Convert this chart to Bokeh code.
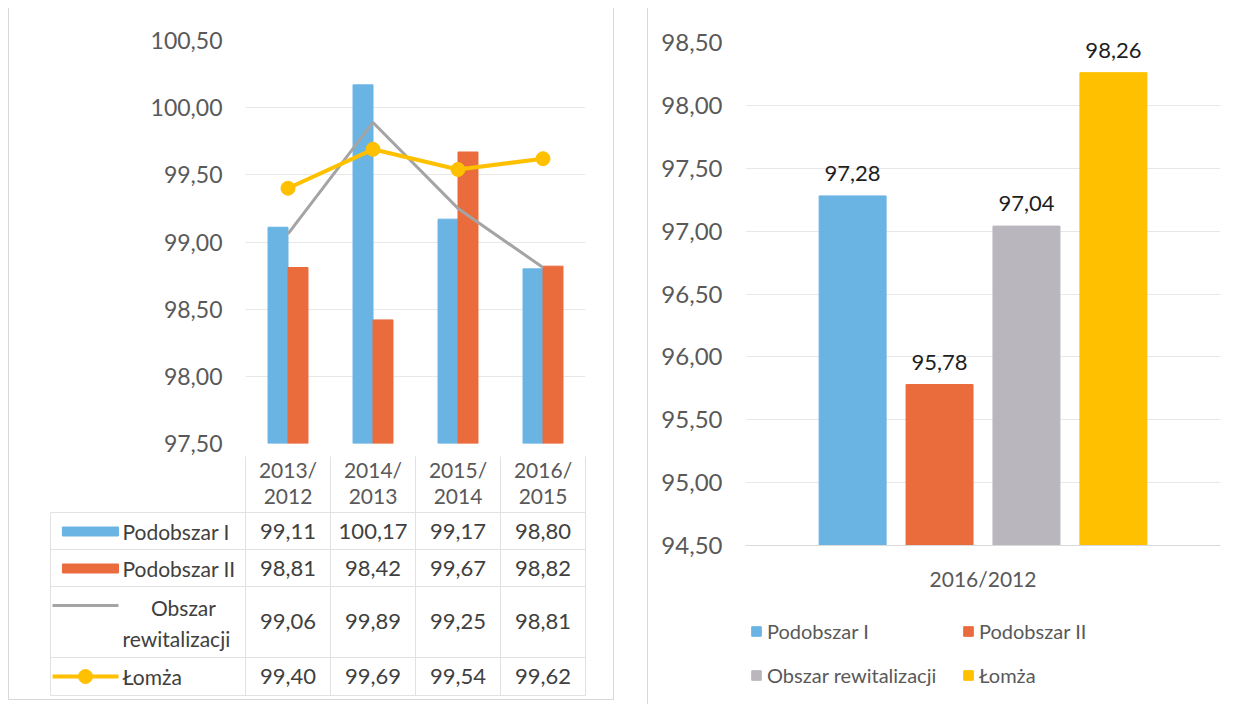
from bokeh.plotting import figure
from bokeh.models import (ColumnDataSource, FactorRange, Range1d, FixedTicker,
                          Legend, LegendItem, Spacer, CustomJSTickFormatter)
from bokeh.layouts import row, column
from bokeh.transform import dodge
from bokeh.core.properties import value
from bokeh.embed import file_html
from bokeh.resources import INLINE

# ---------------- data ----------------
categories = ["2013/2012", "2014/2013", "2015/2014", "2016/2015"]
podobszar_1 = [99.11, 100.17, 99.17, 98.80]
podobszar_2 = [98.81, 98.42, 99.67, 98.82]
obszar_rew = [99.06, 99.89, 99.25, 98.81]
lomza = [99.40, 99.69, 99.54, 99.62]
left_ticks = [97.5, 98.0, 98.5, 99.0, 99.5, 100.0, 100.5]

right_category = ["2016/2012"]
right_series = ["Podobszar I", "Podobszar II", "Obszar rewitalizacji", "Łomża"]
right_values = [97.28, 95.78, 97.04, 98.26]
right_ticks = [94.5, 95.0, 95.5, 96.0, 96.5, 97.0, 97.5, 98.0, 98.5]

# ---------------- style ----------------
FONT = "Lato"
BLUE = "#6AB4E4"
ORANGE = "#EA6B3C"
GRAY_LINE = "#A4A4A4"
GRAY_BAR = "#BAB6BE"
YELLOW = "#FFC000"
AX_TXT = "#595959"
TBL_TXT = "#404040"
GRID = "#E8E8E8"
BORDER = "1px solid #D8D8D8"


def fmt(v):
    return f"{v:.2f}".replace(".", ",")


comma_fmt = CustomJSTickFormatter(code="return tick.toFixed(2).replace('.', ',');")

# ---------------- left chart ----------------
pA = figure(x_range=FactorRange(*categories, range_padding=0),
            y_range=Range1d(left_ticks[0], left_ticks[-1]),
            width=604, height=448, output_backend="svg", toolbar_location=None,
            min_border_left=236, min_border_right=28, min_border_top=32,
            min_border_bottom=13, frame_align=False)
pA.xaxis.visible = False
pA.outline_line_color = None
pA.xgrid.visible = False
pA.ygrid.grid_line_color = GRID
pA.yaxis.ticker = FixedTicker(ticks=left_ticks)
pA.yaxis.formatter = comma_fmt
pA.yaxis.axis_line_color = None
pA.yaxis.major_tick_line_color = None
pA.yaxis.minor_tick_line_color = None
pA.yaxis.major_tick_out = 0
pA.yaxis.major_label_standoff = 23
pA.yaxis.major_label_text_font = FONT
pA.yaxis.major_label_text_font_size = "23px"
pA.yaxis.major_label_text_color = AX_TXT

srcA = ColumnDataSource(dict(cat=categories, p1=podobszar_1, p2=podobszar_2,
                             rew=obszar_rew, lom=lomza))
bw = 0.235
base = left_ticks[0]
pA.vbar(x=dodge("cat", -bw / 2, range=pA.x_range), top="p1", bottom=base,
        width=bw, color=BLUE, source=srcA)
pA.vbar(x=dodge("cat", bw / 2, range=pA.x_range), top="p2", bottom=base,
        width=bw, color=ORANGE, source=srcA)
pA.line(x="cat", y="rew", color=GRAY_LINE, line_width=3, source=srcA)
pA.line(x="cat", y="lom", color=YELLOW, line_width=4, source=srcA)
pA.scatter(x="cat", y="lom", size=14, color=YELLOW, source=srcA)

# ---------------- data table under left chart ----------------
pB = figure(x_range=Range1d(-2.776, 4.329), y_range=Range1d(249, 6),
            width=604, height=243, output_backend="svg", toolbar_location=None,
            min_border=0, x_axis_type=None, y_axis_type=None, frame_align=False)
pB.grid.visible = False
pB.outline_line_color = None

ncat = len(categories)
cx = [i + 0.5 for i in range(ncat)]
LINE_C = "#E2E2E2"

left_edge = -2.294
h_rows = [62, 99, 136, 207, 245]
pB.segment(x0=[left_edge] * len(h_rows), x1=[ncat] * len(h_rows), y0=h_rows, y1=h_rows,
           color=LINE_C, line_width=1)
pB.segment(x0=list(range(ncat + 1)), x1=list(range(ncat + 1)),
           y0=[0] * (ncat + 1), y1=[245] * (ncat + 1), color=LINE_C, line_width=1)
pB.segment(x0=[left_edge], x1=[left_edge], y0=[62], y1=[245], color=LINE_C, line_width=1)

top_part = [c.split("/")[0] + "/" for c in categories]
bot_part = [c.split("/")[1] for c in categories]
hkw = dict(text_font=value(FONT), text_font_size="21px", text_align="center",
           text_baseline="middle", text_color=AX_TXT)
pB.text(x=cx, y=[19] * ncat, text=top_part, **hkw)
pB.text(x=cx, y=[46] * ncat, text=bot_part, **hkw)

tkw = dict(text_font=value(FONT), text_font_size="22px", text_align="center",
           text_baseline="middle")
row_y = [81, 118, 171, 226]
for series, yy in zip([podobszar_1, podobszar_2, obszar_rew, lomza], row_y):
    pB.text(x=cx, y=[yy] * ncat, text=[fmt(v) for v in series], text_color=TBL_TXT, **tkw)

lab_x = -1.447
lkw = dict(text_font=value(FONT), text_font_size="21px", text_baseline="middle",
           text_color=TBL_TXT)
pB.rect(x=[-1.824], y=[row_y[0]], width=0.659, height=9, color=BLUE)
pB.text(x=[lab_x], y=[row_y[0]], text=["Podobszar I"], text_align="left", **lkw)
pB.rect(x=[-1.824], y=[row_y[1]], width=0.659, height=9, color=ORANGE)
pB.text(x=[lab_x], y=[row_y[1]], text=["Podobszar II"], text_align="left", **lkw)
pB.line(x=[-2.27, -1.494], y=[155, 155], color=GRAY_LINE, line_width=3)
pB.text(x=[-0.73], y=[157], text=["Obszar"], text_align="center", **lkw)
pB.text(x=[lab_x], y=[188], text=["rewitalizacji"], text_align="left", **lkw)
pB.line(x=[-2.27, -1.494], y=[row_y[3], row_y[3]], color=YELLOW, line_width=4)
pB.scatter(x=[-1.882], y=[row_y[3]], size=14, color=YELLOW)
pB.text(x=[lab_x], y=[row_y[3]], text=["Łomża"], text_align="left", **lkw)

left_panel = column(pA, pB, styles={"border-left": BORDER, "border-right": BORDER,
                                    "border-bottom": BORDER})

# ---------------- right chart ----------------
pC = figure(x_range=FactorRange(*right_category, range_padding=0),
            y_range=Range1d(right_ticks[0], right_ticks[-1]),
            width=580, height=590, output_backend="svg", toolbar_location=None,
            min_border_left=97, min_border_right=8, min_border_top=34,
            min_border_bottom=53, frame_align=False)
pC.outline_line_color = None
pC.xgrid.visible = False
pC.ygrid.grid_line_color = GRID
pC.yaxis.ticker = FixedTicker(ticks=right_ticks)
pC.yaxis.formatter = comma_fmt
pC.yaxis.axis_line_color = None
pC.yaxis.major_tick_line_color = None
pC.yaxis.minor_tick_line_color = None
pC.yaxis.major_tick_out = 0
pC.yaxis.major_label_standoff = 23
pC.yaxis.major_label_text_font = FONT
pC.yaxis.major_label_text_font_size = "24px"
pC.yaxis.major_label_text_color = AX_TXT
pC.xaxis.axis_line_color = "#D9D9D9"
pC.xaxis.major_tick_line_color = None
pC.xaxis.minor_tick_line_color = None
pC.xaxis.major_tick_out = 0
pC.xaxis.major_label_standoff = 20
pC.xaxis.major_label_text_font = FONT
pC.xaxis.major_label_text_font_size = "21px"
pC.xaxis.major_label_text_color = AX_TXT

colors_r = [BLUE, ORANGE, GRAY_BAR, YELLOW]
step = 0.183
rbw = 0.141
nser = len(right_series)
for i, (name, v, c) in enumerate(zip(right_series, right_values, colors_r)):
    off = (i - (nser - 1) / 2) * step
    src = ColumnDataSource(dict(cat=right_category, val=[v], lab=[fmt(v)]))
    pC.vbar(x=dodge("cat", off, range=pC.x_range), top="val",
            bottom=right_ticks[0], width=rbw, color=c, source=src)
    pC.text(x=dodge("cat", off, range=pC.x_range), y="val", text="lab", source=src,
            text_align="center", text_baseline="bottom", y_offset=-15,
            text_font=value(FONT), text_font_size="22px", text_color="#1E1E1E")

# ---------------- legend strip under right chart ----------------
pD = figure(x_range=Range1d(0, 1), y_range=Range1d(0, 1), width=580, height=109,
            output_backend="svg", toolbar_location=None, min_border=0,
            x_axis_type=None, y_axis_type=None, frame_align=False)
pD.grid.visible = False
pD.outline_line_color = None
# off-screen placeholders that only carry the legend swatch styles
legend_renderers = [pD.vbar(x=[-5], top=[-5], bottom=-6, width=0.1, color=c)
                    for c in colors_r]

leg_kw = dict(orientation="horizontal", padding=0, spacing=5, margin=0,
              glyph_width=12, glyph_height=12, label_standoff=5, label_width=190,
              label_text_font=FONT, label_text_font_size="20px",
              label_text_color=AX_TXT, border_line_color=None,
              background_fill_alpha=0)
leg1 = Legend(items=[LegendItem(label=right_series[0], renderers=[legend_renderers[0]]),
                     LegendItem(label=right_series[1], renderers=[legend_renderers[1]])],
              location=(102, 64), **leg_kw)
leg2 = Legend(items=[LegendItem(label=right_series[2], renderers=[legend_renderers[2]]),
                     LegendItem(label=right_series[3], renderers=[legend_renderers[3]])],
              location=(102, 20), **leg_kw)
pD.add_layout(leg1)
pD.add_layout(leg2)

right_panel = column(pC, pD, styles={"border-left": BORDER, "border-bottom": BORDER})

layout = row(left_panel, Spacer(width=33, height=10), right_panel, margin=(8, 0, 0, 8))

open("out.html", "w").write(file_html(layout, INLINE))
